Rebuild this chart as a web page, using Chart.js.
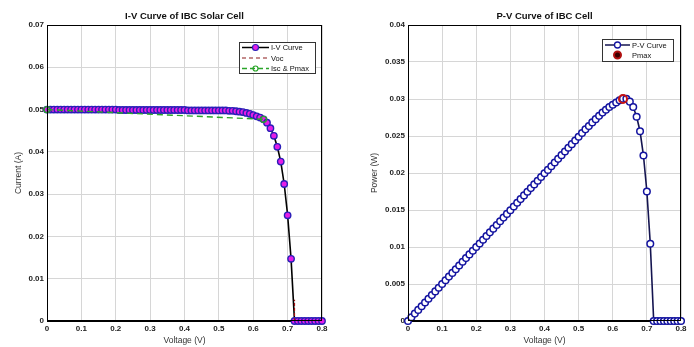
<!DOCTYPE html>
<html>
<head>
<meta charset="utf-8">
<script src="https://cdn.jsdelivr.net/npm/chart.js@4.4.1/dist/chart.umd.min.js"></script>
<style>
  body { margin: 0; background: #fff; }
  #wrap { position: relative; width: 694px; height: 347px; }
  canvas { position: absolute; top: 0; }
</style>
</head>
<body>
<div id="wrap">
  <canvas id="iv" width="340" height="347" style="left:0"></canvas>
  <canvas id="pv" width="354" height="347" style="left:340px"></canvas>
</div>
<script>
// values (V step 0.01)
const voltage = [
  0, 0.01, 0.02, 0.03, 0.04, 0.05, 0.06, 0.07, 0.08, 0.09,
  0.1, 0.11, 0.12, 0.13, 0.14, 0.15, 0.16, 0.17, 0.18, 0.19,
  0.2, 0.21, 0.22, 0.23, 0.24, 0.25, 0.26, 0.27, 0.28, 0.29,
  0.3, 0.31, 0.32, 0.33, 0.34, 0.35, 0.36, 0.37, 0.38, 0.39,
  0.4, 0.41, 0.42, 0.43, 0.44, 0.45, 0.46, 0.47, 0.48, 0.49,
  0.5, 0.51, 0.52, 0.53, 0.54, 0.55, 0.56, 0.57, 0.58, 0.59,
  0.6, 0.61, 0.62, 0.63, 0.64, 0.65, 0.66, 0.67, 0.68, 0.69,
  0.7, 0.71, 0.72, 0.73, 0.74, 0.75, 0.76, 0.77, 0.78, 0.79,
  0.8
];
const current = [
  0.05, 0.05, 0.05, 0.05, 0.05, 0.05, 0.05, 0.05, 0.05, 0.05,
  0.05, 0.05, 0.05, 0.05, 0.05, 0.05, 0.05, 0.05, 0.05, 0.05,
  0.05, 0.0499, 0.0499, 0.0499, 0.0499, 0.0499, 0.0499, 0.0499, 0.0499, 0.0499,
  0.0499, 0.0499, 0.0499, 0.0499, 0.0499, 0.0499, 0.0499, 0.0499, 0.0499, 0.0499,
  0.0499, 0.0498, 0.0498, 0.0498, 0.0498, 0.0498, 0.0498, 0.0498, 0.0498, 0.0498,
  0.0498, 0.0498, 0.0498, 0.0497, 0.0497, 0.0496, 0.0495, 0.0494, 0.0492, 0.049,
  0.0487, 0.0484, 0.0481, 0.0477, 0.0469, 0.0456, 0.0438, 0.0412, 0.0377, 0.0324,
  0.025, 0.0147, 0, 0, 0, 0, 0, 0, 0, 0,
  0
];
const power = [
  0, 0.0005, 0.001, 0.0015, 0.002, 0.0025, 0.003, 0.0035, 0.004, 0.0045,
  0.005, 0.0055, 0.006, 0.0065, 0.007, 0.0075, 0.008, 0.0085, 0.009, 0.0095,
  0.01, 0.01048, 0.01098, 0.01148, 0.01198, 0.01248, 0.01297, 0.01347, 0.01397, 0.01447,
  0.01497, 0.01547, 0.01597, 0.01647, 0.01697, 0.01747, 0.01796, 0.01846, 0.01896, 0.01946,
  0.01996, 0.02042, 0.02092, 0.02141, 0.02191, 0.02241, 0.02291, 0.02341, 0.0239, 0.0244,
  0.0249, 0.0254, 0.0259, 0.02634, 0.02684, 0.02728, 0.02772, 0.02816, 0.02854, 0.02891,
  0.02922, 0.02952, 0.02982, 0.03005, 0.03002, 0.02964, 0.02891, 0.0276, 0.02564, 0.02236,
  0.0175, 0.01044, 0, 0, 0, 0, 0, 0, 0, 0,
  0
];
const iscPmaxV = [0, 0.63];
const iscPmaxI = [0.05, 0.0477];
const vocV = [0.72, 0.72];
const vocI = [0, 0.005];
const pmaxV = [0.63];
const pmaxP = [0.03];

const FONT = '"Liberation Sans", Arial, sans-serif';
const pts = (xs, ys) => xs.map((x, i) => ({ x, y: ys[i] }));
const fmt = v => (v === 0 ? '0' : String(+v.toFixed(3)));

// box, title and legend drawn over the plot (MATLAB look)
const frame = {
  id: 'frame',
  afterDatasetsDraw(chart, args, opts) {
    const { ctx, chartArea: a } = chart;
    ctx.save();
    ctx.strokeStyle = '#000';
    ctx.lineWidth = 1;
    ctx.strokeRect(a.left + 0.5, a.top + 0.5, a.right - a.left - 1, a.bottom - a.top - 1);

    ctx.fillStyle = '#111';
    ctx.font = 'bold 9.5px ' + FONT;
    ctx.textAlign = 'center';
    ctx.textBaseline = 'middle';
    ctx.fillText(opts.title, (a.left + a.right) / 2, 16);

    const b = opts.box;
    const bx = a.right - b.r, by = a.top + b.t;
    ctx.fillStyle = '#fff';
    ctx.fillRect(bx, by, b.w, b.h);
    ctx.strokeStyle = '#333';
    ctx.strokeRect(bx + 0.5, by + 0.5, b.w, b.h);
    ctx.font = '7.5px ' + FONT;
    ctx.textAlign = 'left';
    opts.items.forEach((it, i) => {
      const y = by + b.first + i * b.gap;
      if (it.line) {
        ctx.beginPath();
        ctx.setLineDash(it.dash || []);
        ctx.strokeStyle = it.line;
        ctx.lineWidth = it.lw || 1.5;
        ctx.moveTo(bx + 3, y);
        ctx.lineTo(bx + b.lineW, y);
        ctx.stroke();
        ctx.setLineDash([]);
      }
      if (it.marker) {
        const m = it.marker;
        ctx.beginPath();
        ctx.arc(bx + 3 + (b.lineW - 3) / 2, y, m.r, 0, Math.PI * 2);
        if (m.fill) { ctx.fillStyle = m.fill; ctx.fill(); }
        ctx.strokeStyle = m.stroke;
        ctx.lineWidth = m.lw;
        ctx.stroke();
      }
      ctx.fillStyle = '#111';
      ctx.fillText(it.label, bx + b.lineW + 2, y + 0.5);
    });
    ctx.restore();
  }
};

function axes(yMax, yStep, yTitle, yWidth, yTitlePad) {
  const tickFont = { family: FONT, size: 8, weight: 'bold' };
  const titleFont = { family: FONT, size: 8.5 };
  return {
    x: {
      type: 'linear', min: 0, max: 0.8,
      ticks: { stepSize: 0.1, font: tickFont, color: '#222', padding: 3, callback: fmt, maxRotation: 0 },
      grid: { color: '#d6d6d6', drawTicks: false },
      border: { color: '#000' },
      title: { display: true, text: 'Voltage (V)', font: titleFont, color: '#333', padding: { top: 0, bottom: 1 } },
      afterFit: s => { s.height = 26; }
    },
    y: {
      type: 'linear', min: 0, max: yMax,
      ticks: { stepSize: yStep, font: tickFont, color: '#222', padding: 3, callback: fmt },
      grid: { color: '#d6d6d6', drawTicks: false },
      border: { color: '#000' },
      title: { display: true, text: yTitle, font: titleFont, color: '#333', padding: { top: yTitlePad, bottom: 0 } },
      afterFit: s => { s.width = yWidth; }
    }
  };
}

const common = {
  responsive: false,
  animation: false,
  events: [],
  plugins: { legend: { display: false }, tooltip: { enabled: false } }
};

new Chart(document.getElementById('iv'), {
  type: 'scatter',
  data: {
    datasets: [
      {
        data: pts(voltage, current), showLine: true, clip: false, order: 3,
        borderColor: '#000', borderWidth: 1.6,
        pointRadius: 3.2, pointBorderWidth: 1.4,
        pointBackgroundColor: '#e61ee6', pointBorderColor: '#2a1fb8'
      },
      {
        data: pts(vocV, vocI), showLine: true, clip: false, order: 1,
        borderColor: '#a01010', borderWidth: 1.2, borderDash: [3, 2], pointRadius: 0
      },
      {
        data: pts(iscPmaxV, iscPmaxI), showLine: true, clip: false, order: 0,
        borderColor: '#2aa52a', borderWidth: 1.4, borderDash: [6, 4],
        pointRadius: 3, pointBorderWidth: 1.3,
        pointBackgroundColor: 'rgba(0,0,0,0)', pointBorderColor: '#2aa52a'
      }
    ]
  },
  options: {
    ...common,
    layout: { padding: { top: 25, right: 18, bottom: 0, left: 0 } },
    scales: axes(0.07, 0.01, 'Current (A)', 47, 14),
    plugins: {
      ...common.plugins,
      frame: {
        title: 'I-V Curve of IBC Solar Cell',
        box: { r: 83, t: 17, w: 76, h: 31, first: 5.5, gap: 10.5, lineW: 30 },
        items: [
          { label: 'I-V Curve', line: '#000', lw: 1.5, marker: { r: 3, fill: '#e61ee6', stroke: '#2a1fb8', lw: 1.2 } },
          { label: 'Voc', line: '#8b1a1a', lw: 1.2, dash: [4, 3] },
          { label: 'Isc & Pmax', line: '#2aa52a', lw: 1.4, dash: [5, 3], marker: { r: 2.5, stroke: '#2aa52a', lw: 1.2 } }
        ]
      }
    }
  },
  plugins: [frame]
});

new Chart(document.getElementById('pv'), {
  type: 'scatter',
  data: {
    datasets: [
      {
        data: pts(voltage, power), showLine: true, clip: false, order: 2,
        borderColor: '#141450', borderWidth: 1.6,
        pointRadius: 3.3, pointBorderWidth: 1.5,
        pointBackgroundColor: '#fff', pointBorderColor: '#1414a0'
      },
      {
        data: pts(pmaxV, pmaxP), clip: false, order: 0,
        pointRadius: 4, pointBorderWidth: 2,
        pointBackgroundColor: 'rgba(0,0,0,0)', pointBorderColor: '#c81414'
      }
    ]
  },
  options: {
    ...common,
    layout: { padding: { top: 25, right: 13, bottom: 0, left: 0 } },
    scales: axes(0.04, 0.005, 'Power (W)', 68, 30),
    plugins: {
      ...common.plugins,
      frame: {
        title: 'P-V Curve of IBC Cell',
        box: { r: 79, t: 14, w: 71, h: 22, first: 6, gap: 10, lineW: 28 },
        items: [
          { label: 'P-V Curve', line: '#141450', lw: 1.5, marker: { r: 3, fill: '#fff', stroke: '#1414a0', lw: 1.3 } },
          { label: 'Pmax', marker: { r: 3.5, fill: '#3a0000', stroke: '#b01010', lw: 2 } }
        ]
      }
    }
  },
  plugins: [frame]
});
</script>
</body>
</html>
